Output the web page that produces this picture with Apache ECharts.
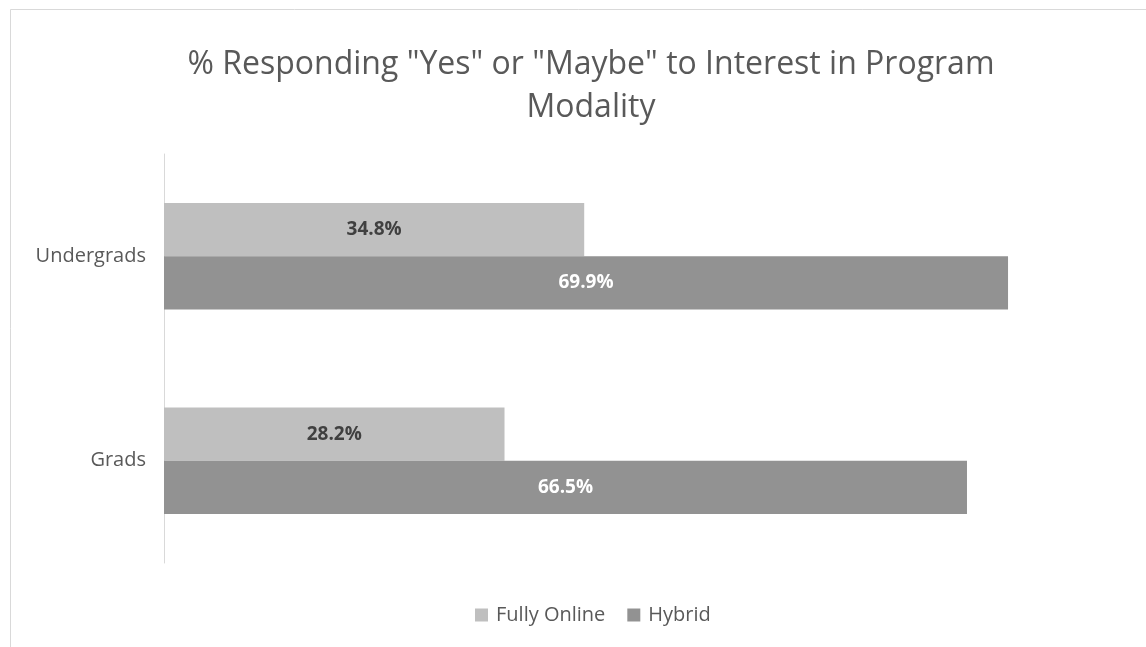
<!DOCTYPE html>
<html>
<head>
<meta charset="utf-8">
<script src="https://cdn.jsdelivr.net/npm/echarts@6/dist/echarts.min.js"></script>
<style>
  html, body { margin: 0; padding: 0; background: #ffffff; }
  #chart { width: 1146px; height: 647px; }
</style>
</head>
<body>
<div id="chart"></div>
<script>
// Groups shown on the category axis, top to bottom
const groups = ['Undergrads', 'Grads'];
// Share (%) answering "Yes" or "Maybe" for each program modality
const fullyOnline = [34.8, 28.2];
const hybrid = [69.9, 66.5];

const FONT = '"Open Sans", "Liberation Sans", sans-serif';
const TEXT = '#595959';

const chart = echarts.init(document.getElementById('chart'), null, { renderer: 'canvas' });

chart.setOption({
  backgroundColor: '#ffffff',
  animation: false,
  title: {
    text: '% Responding "Yes" or "Maybe" to Interest in Program\nModality',
    left: 586,
    textAlign: 'center',
    top: 38,
    textStyle: {
      fontFamily: FONT,
      fontSize: 32,
      fontWeight: 'normal',
      color: TEXT,
      lineHeight: 43
    }
  },
  graphic: [{
    type: 'rect',
    silent: true,
    shape: { x: 10.5, y: 9.5, width: 1300, height: 800 },
    style: { fill: 'none', stroke: '#d9d9d9', lineWidth: 1 }
  }],
  legend: {
    bottom: 17,
    left: 470,
    icon: 'rect',
    itemWidth: 13,
    itemHeight: 13,
    itemGap: 22,
    textStyle: { fontFamily: FONT, fontSize: 20, color: TEXT, padding: [0, 0, 0, 3] },
    data: ['Fully Online', 'Hybrid']
  },
  grid: { left: 164, right: 16, top: 154, bottom: 84, containLabel: false },
  xAxis: {
    type: 'value',
    min: 0,
    max: 80,
    show: false
  },
  yAxis: {
    type: 'category',
    data: groups,
    inverse: true,
    axisLine: { show: true, lineStyle: { color: '#d9d9d9', width: 1 } },
    axisTick: { show: false },
    axisLabel: { fontFamily: FONT, fontSize: 20, color: TEXT, margin: 18 }
  },
  series: [
    {
      name: 'Fully Online',
      type: 'bar',
      data: fullyOnline,
      barGap: '0%',
      barCategoryGap: '48%',
      itemStyle: { color: '#bfbfbf' },
      label: {
        show: true,
        position: 'inside',
        formatter: p => p.value.toFixed(1) + '%',
        fontFamily: FONT,
        fontSize: 19,
        fontWeight: 'bold',
        color: '#404040'
      }
    },
    {
      name: 'Hybrid',
      type: 'bar',
      data: hybrid,
      barGap: '0%',
      barCategoryGap: '48%',
      itemStyle: { color: '#929292' },
      label: {
        show: true,
        position: 'inside',
        formatter: p => p.value.toFixed(1) + '%',
        fontFamily: FONT,
        fontSize: 19,
        fontWeight: 'bold',
        color: '#ffffff'
      }
    }
  ]
});
</script>
</body>
</html>
